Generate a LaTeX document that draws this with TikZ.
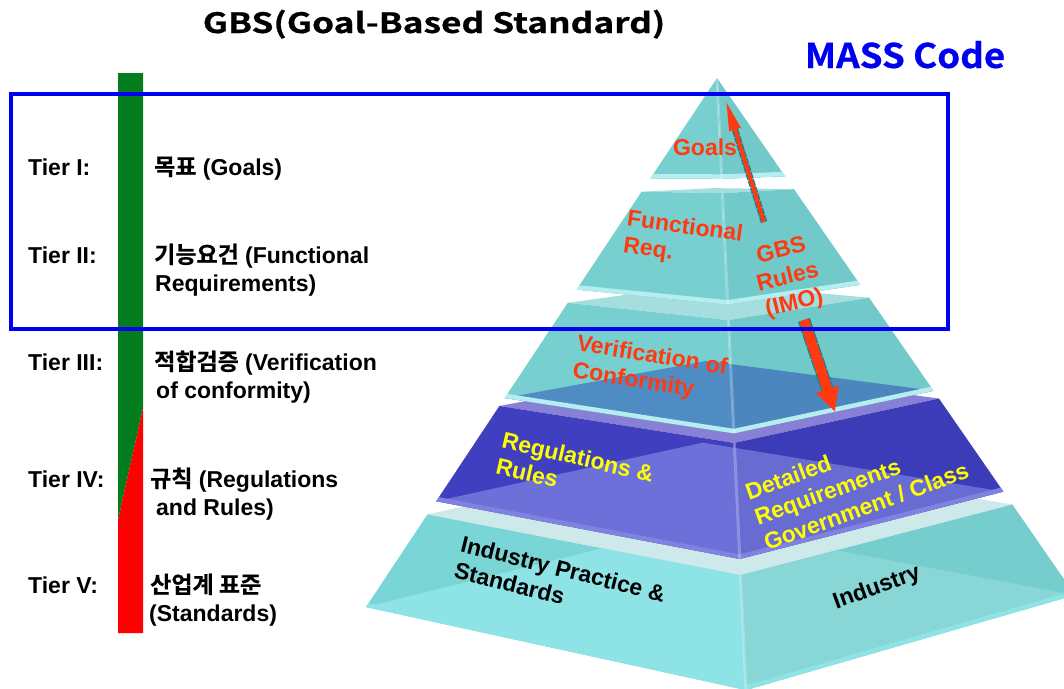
\documentclass[tikz,border=0pt]{standalone}
\usepackage{fontspec}
\setmainfont{Liberation Sans}
\newfontfamily\krfont{Noto Sans CJK KR}[BoldFont={Noto Sans CJK KR Bold}, BoldFeatures={FakeBold=0.6}]
\usetikzlibrary{positioning, calc, arrows.meta}

\definecolor{tierGreen}{RGB}{4,125,30}
\definecolor{tierRed}{RGB}{255,0,0}
\definecolor{massBlue}{RGB}{0,0,240}
\definecolor{gbsRed}{RGB}{255,58,16}
\definecolor{regYellow}{RGB}{255,255,0}
\definecolor{dotTeal}{RGB}{20,130,140}
% slab colours: left face, right face, top face, inner part, rim
\definecolor{cyL}{RGB}{119,207,208}
\definecolor{cyR}{RGB}{113,201,202}
\definecolor{cyTop}{RGB}{166,222,224}
\definecolor{cyRim}{RGB}{182,238,239}
\definecolor{stlL}{RGB}{80,140,196}
\definecolor{stlR}{RGB}{76,134,190}
\definecolor{bluL}{RGB}{63,63,191}
\definecolor{bluR}{RGB}{60,60,184}
\definecolor{bluInL}{RGB}{108,112,216}
\definecolor{bluInR}{RGB}{104,108,210}
\definecolor{bluTop}{RGB}{136,128,212}
\definecolor{bluRim}{RGB}{128,130,224}
\definecolor{indL}{RGB}{122,213,215}
\definecolor{indR}{RGB}{118,205,206}
\definecolor{indInL}{RGB}{142,227,231}
\definecolor{indInR}{RGB}{136,214,214}
\definecolor{indTop}{RGB}{206,233,234}

\begin{document}
\begin{tikzpicture}[
        x=1pt, y=-1pt,
        tier/.style={anchor=base west, inner sep=0pt, font=\fontsize{23}{28}\selectfont\bfseries},
        plab/.style={inner sep=0pt, align=left, font=\fontsize{23}{27}\selectfont\bfseries},
        arrowrim/.style={dotTeal, densely dotted},
        gbsarrow/.style={gbsRed},
    ]
    \useasboundingbox (0,0) rectangle (1064,688);

    % corners of every slab level: left, right, front, back
    \foreach \nm/\lv in {gt/0, gb/0.19, ft/0.215, fb/0.40, vt/0.425, vb/0.605,
                         rt/0.62, rb/0.80, it/0.825, ib/1}{
        \pgfmathsetmacro\dd{83*(max(\lv-0.18,0.0001)/0.82)^1.3}
        \pgfmathsetmacro\fy{78+529*\lv+\dd}
        \pgfmathsetmacro\fx{717+(\fy-78)/612*29}
        \coordinate (\nm L) at ({717-351*\lv},{78+529*\lv});
        \coordinate (\nm R) at ({717+358*\lv},{78+517*\lv});
        \coordinate (\nm F) at (\fx,\fy);
        \coordinate (\nm B) at ($(\nm L)!0.5!(\nm R)!-0.86!(\nm F)$);
    }

    % slabs, bottom one first
    \foreach \ta/\tb/\ca/\cb/\cc/\cd/\ce/\cf in {
            it/ib/indL/indR/indTop/indInL/indInR/indInL,
            rt/rb/bluL/bluR/bluTop/bluInL/bluInR/bluRim,
            vt/vb/cyL/cyR/cyTop/stlL/stlR/cyRim,
            ft/fb/cyL/cyR/cyTop/cyL/cyR/cyRim,
            gt/gb/cyL/cyR/cyTop/cyL/cyR/cyRim}{
        \fill[\cc] (\ta L) -- (\ta B) -- (\ta R) -- (\ta F) -- cycle;
        \fill[\ca] (\ta L) -- (\ta F) -- (\tb F) -- (\tb L) -- cycle;
        \fill[\cb] (\ta F) -- (\ta R) -- (\tb R) -- (\tb F) -- cycle;
        \begin{scope}
            \clip (\ta L) -- (\ta F) -- (\tb F) -- (\tb L) -- cycle;
            \fill[\cd] (\tb L) -- (\tb B) -- (\tb R) -- (\tb F) -- cycle;
        \end{scope}
        \begin{scope}
            \clip (\ta F) -- (\ta R) -- (\tb R) -- (\tb F) -- cycle;
            \fill[\ce] (\tb L) -- (\tb B) -- (\tb R) -- (\tb F) -- cycle;
        \end{scope}
        \begin{scope}
            \clip (\ta L) -- (\ta F) -- (\ta R) -- (\tb R) -- (\tb F) -- (\tb L) -- cycle;
            \draw[\cf, line width=9pt] (\tb L) -- (\tb F) -- (\tb R);
            \draw[white, opacity=0.25, line width=3pt] (\ta F) -- (\tb F);
        \end{scope}
    }

    % GBS rules arrows
    \coordinate (goalTail) at (764,222);
    \coordinate (goalTip) at (726,101);
    \coordinate (imoTail) at (804,320);
    \coordinate (imoTip) at (835,412);
    \draw[arrowrim, line width=6.5pt, shorten >=26pt] (goalTail) -- (goalTip);
    \draw[gbsarrow, line width=4pt, -{Triangle[length=30pt,width=11pt]}] (goalTail) -- (goalTip);
    \draw[arrowrim, line width=12.5pt, shorten >=22pt] (imoTail) -- (imoTip);
    \draw[gbsarrow, line width=10pt, -{Triangle[length=24pt,width=22pt]}] (imoTail) -- (imoTip);

    % pyramid labels
    \node[plab, gbsRed] (goals) at (705,147) {Goals};
    \node[plab, gbsRed, rotate=-8] (funcReq) at (683,241) {Functional\\Req.};
    \node[plab, gbsRed, rotate=14, align=center] (gbsRules) at (788,278) {GBS\\Rules\\(IMO)};
    \node[plab, gbsRed, rotate=-9] (verif) at (650,370) {Verification of\\Conformity};
    \node[plab, regYellow, rotate=-13] (regs) at (575,470) {Regulations \&\\Rules};
    \node[plab, regYellow, rotate=20] (detail) at (857,481) {Detailed\\Requirements\\Government / Class};
    \node[plab, rotate=-14] (indPrac) at (560,582) {Industry Practice \&\\Standards};
    \node[plab, rotate=20] (indus) at (877,588) {Industry};

    % tier bar
    \fill[tierGreen] (118,73) -- (143,73) -- (143,408) -- (118,520) -- cycle;
    \fill[tierRed] (118,520) -- (143,408) -- (143,633) -- (118,633) -- cycle;

    % tier labels
    \node[tier] (tier1) at (28,175) {Tier I:};
    \node[tier] (tier2) at (28,263) {Tier II:};
    \node[tier] (tier3) at (28,370) {Tier III:};
    \node[tier] (tier4) at (28,487) {Tier IV:};
    \node[tier] (tier5) at (28,593) {Tier V:};
    \node[tier] (goalKr) at (154,175) {{\krfont 목표} (Goals)};
    \node[tier] (funcKr) at (154,263) {{\krfont 기능요건} (Functional};
    \node[tier] (funcEn) at (155,291) {Requirements)};
    \node[tier] (verKr) at (154,370) {{\krfont 적합검증} (Verification};
    \node[tier] (verEn) at (156,398) {of conformity)};
    \node[tier] (regKr) at (150,487) {{\krfont 규칙} (Regulations};
    \node[tier] (regEn) at (156,515) {and Rules)};
    \node[tier] (stdKr) at (150,593) {{\krfont 산업계 표준}};
    \node[tier] (stdEn) at (149,621) {(Standards)};

    % titles and MASS frame
    \node[anchor=base, inner sep=0pt, font={\krfont\bfseries\fontsize{28}{32}\selectfont}] (title) at (434,33) {\scalebox{1.26}[1]{GBS(Goal-Based Standard)}};
    \node[anchor=base, inner sep=0pt, massBlue, font={\krfont\bfseries\fontsize{34}{40}\selectfont}] (massCode) at (905,68) {\scalebox{1.08}[1]{MASS Code}};
    \draw[massBlue, line width=4pt] (11,94) rectangle (948,329);
\end{tikzpicture}
\end{document}
